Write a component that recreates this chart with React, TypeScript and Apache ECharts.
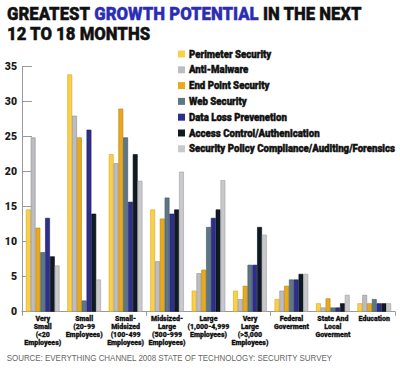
import React, { useEffect, useRef } from "react";
import * as echarts from "echarts";

const categories = [
  "Very\nSmall\n(<20\nEmployees)",
  "Small\n(20-99\nEmployees)",
  "Small-\nMidsized\n(100-499\nEmployees)",
  "Midsized-\nLarge\n(500-999\nEmployees)",
  "Large\n(1,000-4,999\nEmployees)",
  "Very\nLarge\n(>5,000\nEmployees)",
  "Federal\nGoverment",
  "State And\nLocal\nGoverment",
  "Education",
];

const perimeterSecurity = [14.6, 33.9, 22.5, 14.6, 3.0, 3.0, 1.8, 1.2, 1.2];
const antiMalware = [24.9, 28.0, 21.2, 7.2, 5.5, 1.8, 3.0, 0.6, 2.4];
const endPointSecurity = [12.0, 24.9, 29.0, 13.3, 6.0, 3.7, 3.7, 1.9, 1.2];
const webSecurity = [8.5, 1.6, 24.9, 16.3, 12.1, 6.7, 4.6, 0.6, 1.8];
const dataLossPrevention = [13.4, 26.0, 15.7, 14.0, 13.4, 6.7, 4.6, 0.6, 1.2];
const accessControl = [7.9, 14.0, 22.5, 14.6, 14.6, 12.1, 5.4, 1.2, 1.2];
const securityPolicy = [6.6, 4.6, 18.7, 20.0, 18.8, 11.0, 5.4, 2.4, 1.2];

const yTicks = [0, 5, 10, 15, 20, 25, 30, 35];

const seriesNames = [
  "Perimeter Security",
  "Anti-Malware",
  "End Point Security",
  "Web Security",
  "Data Loss Prevenetion",
  "Access Control/Authenication",
  "Security Policy Compliance/Auditing/Forensics",
];

const titleLine1 = ["GREATEST ", "GROWTH POTENTIAL", " IN THE NEXT"];
const titleLine2 = "12 TO 18 MONTHS";
const sourceText = "SOURCE: EVERYTHING CHANNEL 2008 STATE OF TECHNOLOGY: SECURITY SURVEY";

const HEAVY = "Roboto, 'Liberation Sans', sans-serif";

function measure(text: string, font: string): number {
  const ctx = document.createElement("canvas").getContext("2d");
  if (!ctx) return text.length * 6;
  ctx.font = font;
  return ctx.measureText(text).width;
}

export default function App() {
  const ref = useRef<HTMLDivElement>(null);
  useEffect(() => {
    document.body.style.margin = "0";
    if (!ref.current) return;
    const chart = echarts.init(ref.current, null, { renderer: "svg" });
    const data = [
      perimeterSecurity,
      antiMalware,
      endPointSecurity,
      webSecurity,
      dataLossPrevention,
      accessControl,
      securityPolicy,
    ];
    const colors = ["#F9D04A", "#BDBDC1", "#E8AA1C", "#5E7784", "#2E2E8C", "#0F1B24", "#C9C9CC"];
    const borders = ["#D9A620", "#8F8F94", "#B9820E", "#44575F", "#1E1E66", "#05090C", "#A0A0A4"];
    const option: any = {
      animation: false,
      backgroundColor: "#ffffff",
      grid: { left: 22, right: 5, top: 66.7, bottom: 58.3, containLabel: false },
      xAxis: {
        type: "category",
        data: categories,
        axisLine: { lineStyle: { color: "#999999", width: 1 } },
        axisTick: { show: true, length: 4, lineStyle: { color: "#999999" } },
        axisLabel: { show: false },
      },
      yAxis: {
        type: "value",
        min: 0,
        max: 35,
        interval: 5,
        axisLine: { show: true, lineStyle: { color: "#999999" } },
        axisTick: { show: true, inside: true, length: 10, lineStyle: { color: "#999999" } },
        splitLine: { show: false },
        axisLabel: {
          fontFamily: HEAVY,
          fontWeight: 900,
          fontSize: 10.5,
          color: "#1a1a1a",
          margin: 5,
          formatter: (v: number) => (yTicks.includes(v) ? String(v) : ""),
        },
      },
      series: data.map((d, i) => ({
        name: seriesNames[i],
        type: "bar",
        data: d,
        barWidth: 4.8,
        barGap: "0%",
        itemStyle: { color: colors[i], borderColor: borders[i], borderWidth: 0.6 },
      })),
    };
    chart.setOption(option);

    const graphics: any[] = [];

    // Title
    const titleFont = `900 18.5px ${HEAVY}`;
    const tScale = 355 / measure(titleLine1.join(""), titleFont);
    graphics.push({
      type: "text",
      x: 7,
      y: 4,
      scaleX: tScale,
      style: {
        text:
          `{a|${titleLine1[0]}}{b|${titleLine1[1]}}{a|${titleLine1[2]}}\n{a|${titleLine2}}`,
        verticalAlign: "top",
        rich: {
          a: { fontFamily: HEAVY, fontWeight: 900, fontSize: 18.5, lineHeight: 20, fill: "#111111", stroke: "#111111", lineWidth: 0.4 },
          b: { fontFamily: HEAVY, fontWeight: 900, fontSize: 18.5, lineHeight: 20, fill: "#2B2DB5", stroke: "#2B2DB5", lineWidth: 0.4 },
        },
      },
    });

    // Legend
    const legFont = `900 10.5px ${HEAVY}`;
    const lScale = 206 / measure(seriesNames[6], legFont);
    seriesNames.forEach((name, i) => {
      const cy = 54 + i * 15.8;
      graphics.push({
        type: "rect",
        shape: { x: 178, y: cy - 3.5, width: 7, height: 7 },
        style: { fill: colors[i] },
      });
      graphics.push({
        type: "text",
        x: 189,
        y: cy,
        scaleX: lScale,
        style: {
          text: name,
          font: legFont,
          fill: "#111111",
          stroke: "#111111",
          lineWidth: 0.45,
          verticalAlign: "middle",
        },
      });
    });

    // X-axis labels
    const xFont = `900 7.5px ${HEAVY}`;
    const xScale = 37 / measure("Employees)", xFont);
    const axisY = chart.convertToPixel({ yAxisIndex: 0 }, 0) as number;
    categories.forEach((c, i) => {
      const px = chart.convertToPixel({ xAxisIndex: 0 }, i) as number;
      graphics.push({
        type: "text",
        x: px,
        y: axisY + 3.2,
        scaleX: xScale,
        style: {
          text: c,
          font: xFont,
          lineHeight: 7.9,
          fill: "#111111",
          stroke: "#111111",
          lineWidth: 0.3,
          align: "center",
          verticalAlign: "top",
        },
      });
    });

    // Source
    const srcFont = `8.5px 'Liberation Sans', Arial, sans-serif`;
    const sScale = 326 / measure(sourceText, srcFont);
    graphics.push({
      type: "text",
      x: 6.7,
      y: 358.3,
      scaleX: sScale,
      style: {
        text: sourceText,
        font: srcFont,
        fill: "#666666",
        verticalAlign: "middle",
      },
    });

    chart.setOption({ graphic: graphics });
    return () => chart.dispose();
  }, []);
  return <div ref={ref} style={{ width: 400, height: 370 }} />;
}
